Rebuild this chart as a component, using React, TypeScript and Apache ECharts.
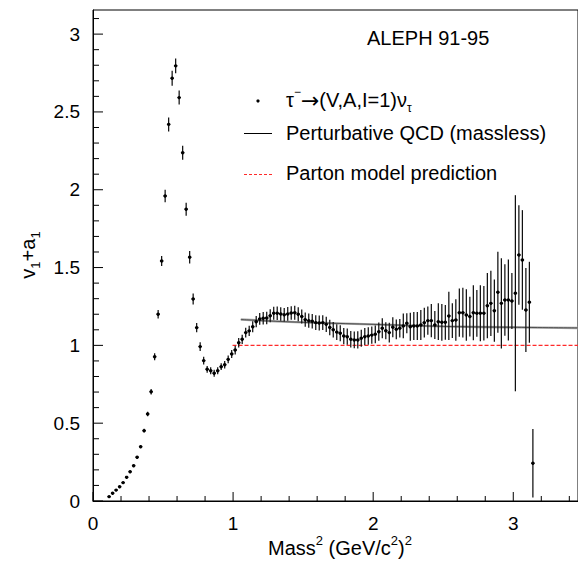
import React, { useEffect, useRef } from 'react';
import * as echarts from 'echarts';

// Mass^2 bin centres (GeV/c^2)^2
const massSq = [
  0.115, 0.14, 0.165, 0.19, 0.215, 0.24, 0.265, 0.29, 0.315, 0.34,
  0.365, 0.39, 0.415, 0.44, 0.465, 0.49, 0.515, 0.54, 0.565, 0.59,
  0.615, 0.64, 0.665, 0.69, 0.715, 0.74, 0.765, 0.79, 0.815, 0.84,
  0.865, 0.89, 0.915, 0.94, 0.965, 0.99, 1.015, 1.04, 1.065, 1.09,
  1.115, 1.14, 1.165, 1.19, 1.215, 1.24, 1.265, 1.29, 1.315, 1.34,
  1.365, 1.39, 1.415, 1.44, 1.465, 1.49, 1.515, 1.54, 1.565, 1.59,
  1.615, 1.64, 1.665, 1.69, 1.715, 1.74, 1.765, 1.79, 1.815, 1.84,
  1.865, 1.89, 1.915, 1.94, 1.965, 1.99, 2.015, 2.04, 2.065, 2.09,
  2.115, 2.14, 2.165, 2.19, 2.215, 2.24, 2.265, 2.29, 2.315, 2.34,
  2.365, 2.39, 2.415, 2.44, 2.465, 2.49, 2.515, 2.54, 2.565, 2.59,
  2.615, 2.64, 2.665, 2.69, 2.715, 2.74, 2.765, 2.79, 2.815, 2.84,
  2.865, 2.89, 2.915, 2.94, 2.965, 2.99, 3.015, 3.04, 3.065, 3.09,
  3.115, 3.14,
];

// v1 + a1 spectral function values
const v1a1 = [
  0.028, 0.05, 0.07, 0.092, 0.118, 0.152, 0.188, 0.227, 0.281, 0.349,
  0.452, 0.559, 0.702, 0.927, 1.2, 1.542, 1.96, 2.42, 2.716, 2.796,
  2.592, 2.238, 1.875, 1.566, 1.298, 1.114, 0.992, 0.902, 0.846, 0.837,
  0.821, 0.837, 0.863, 0.876, 0.91, 0.945, 0.97, 1.017, 1.039, 1.082,
  1.093, 1.12, 1.152, 1.17, 1.174, 1.176, 1.19, 1.206, 1.206, 1.202,
  1.197, 1.202, 1.208, 1.21, 1.2, 1.185, 1.165, 1.159, 1.155, 1.146,
  1.144, 1.146, 1.135, 1.115, 1.1, 1.085, 1.078, 1.06, 1.056, 1.039,
  1.035, 1.035, 1.046, 1.056, 1.06, 1.066, 1.071, 1.088, 1.11, 1.094,
  1.082, 1.116, 1.103, 1.11, 1.125, 1.142, 1.12, 1.125, 1.125, 1.131,
  1.146, 1.159, 1.159, 1.131, 1.152, 1.148, 1.148, 1.189, 1.159, 1.163,
  1.21, 1.21, 1.195, 1.185, 1.21, 1.206, 1.206, 1.206, 1.255, 1.27,
  1.223, 1.341, 1.27, 1.292, 1.292, 1.285, 1.335, 1.581, 1.549, 1.227,
  1.277, 0.242,
];

// symmetric uncertainties
const v1a1Err = [
  0.004, 0.004, 0.004, 0.005, 0.005, 0.006, 0.006, 0.007, 0.008, 0.009,
  0.012, 0.015, 0.018, 0.022, 0.028, 0.032, 0.04, 0.045, 0.048, 0.047,
  0.045, 0.045, 0.042, 0.04, 0.035, 0.03, 0.028, 0.025, 0.022, 0.022,
  0.022, 0.022, 0.022, 0.024, 0.025, 0.026, 0.028, 0.03, 0.03, 0.032,
  0.033, 0.035, 0.036, 0.038, 0.04, 0.04, 0.042, 0.042, 0.043, 0.043,
  0.043, 0.044, 0.044, 0.045, 0.045, 0.045, 0.046, 0.046, 0.047, 0.047,
  0.048, 0.048, 0.049, 0.05, 0.05, 0.05, 0.051, 0.052, 0.052, 0.053,
  0.054, 0.055, 0.055, 0.055, 0.056, 0.056, 0.057, 0.059, 0.064, 0.054,
  0.064, 0.064, 0.064, 0.059, 0.08, 0.064, 0.09, 0.09, 0.09, 0.096,
  0.096, 0.09, 0.107, 0.09, 0.118, 0.118, 0.112, 0.155, 0.112, 0.134,
  0.155, 0.16, 0.166, 0.128, 0.177, 0.15, 0.18, 0.175, 0.21, 0.21,
  0.2, 0.26, 0.29, 0.23, 0.26, 0.18, 0.63, 0.32, 0.32, 0.27,
  0.26, 0.22,
];

// Perturbative QCD (massless)
const qcdX = [1.055, 1.3, 1.6, 2.0, 2.5, 3.0, 3.47];
const qcdY = [1.166, 1.155, 1.145, 1.135, 1.122, 1.116, 1.112];

// Parton model prediction
const partonX = [0.996, 3.47];
const partonY = [1, 1];

// axis ticks
const xMajorTicks = [0, 1, 2, 3];
const xMinorStep = 0.2;
const yMajorTicks = [0, 0.5, 1, 1.5, 2, 2.5, 3];
const yMinorStep = 0.1;

const X_MAX = 3.462;
const Y_MAX = 3.155;
const FONT = '"Liberation Sans", Arial, Helvetica, sans-serif';

export default function App() {
  const ref = useRef<HTMLDivElement>(null);

  useEffect(() => {
    const chart = echarts.init(ref.current!, null, { renderer: 'svg' });
    const pts = massSq.map((x, i) => [x, v1a1[i], v1a1Err[i]]);

    // tick marks: [axis(0=x,1=y), value, major(1/0)]
    const ticks: number[][] = [];
    for (let i = 0; i * xMinorStep <= X_MAX + 1e-9; i++) {
      const v = +(i * xMinorStep).toFixed(3);
      ticks.push([0, v, xMajorTicks.includes(v) ? 1 : 0]);
    }
    for (let i = 0; i * yMinorStep <= Y_MAX + 1e-9; i++) {
      const v = +(i * yMinorStep).toFixed(3);
      ticks.push([1, v, yMajorTicks.includes(v) ? 1 : 0]);
    }

    chart.setOption({
      animation: false,
      grid: {
        left: 93, right: -2, top: 10, bottom: 61,
        show: true, borderColor: '#000', borderWidth: 1,
      },
      xAxis: {
        type: 'value', min: 0, max: X_MAX, interval: 1,
        axisLine: { show: true, onZero: false, lineStyle: { color: '#000', width: 1 } },
        axisTick: { show: false },
        minorTick: { show: false },
        splitLine: { show: false },
        axisLabel: {
          color: '#000', fontSize: 19, fontFamily: FONT, margin: 13,
          showMaxLabel: false,
        },
      },
      yAxis: {
        type: 'value', min: 0, max: Y_MAX, interval: 0.5,
        axisLine: { show: true, onZero: false, lineStyle: { color: '#000', width: 1 } },
        axisTick: { show: false },
        minorTick: { show: false },
        splitLine: { show: false },
        axisLabel: {
          color: '#000', fontSize: 19, fontFamily: FONT, margin: 13,
          showMaxLabel: false,
        },
      },
      graphic: [
        {
          type: 'text', x: 367, y: 38,
          style: { text: 'ALEPH 91-95', fontSize: 20, fontFamily: FONT, fill: '#000', verticalAlign: 'middle', align: 'left' },
        },
        { type: 'circle', shape: { cx: 258, cy: 101, r: 1.6 }, style: { fill: '#000' } },
        {
          type: 'text', x: 286, y: 100,
          style: {
            text: '{m|τ}{sup|−}{arr|→}{m|(V,A,I=1)ν}{sub|τ}',
            verticalAlign: 'middle', align: 'left', fill: '#000',
            rich: {
              m: { fontSize: 20, fontFamily: FONT, lineHeight: 28, verticalAlign: 'middle' },
              arr: { fontSize: 22, fontFamily: '"DejaVu Sans", sans-serif', lineHeight: 28, verticalAlign: 'middle' },
              sup: { fontSize: 12, fontFamily: FONT, lineHeight: 12, verticalAlign: 'top' },
              sub: { fontSize: 12, fontFamily: FONT, lineHeight: 12, verticalAlign: 'bottom' },
            },
          },
        },
        { type: 'line', shape: { x1: 244, y1: 133.5, x2: 272, y2: 133.5 }, style: { stroke: '#000', lineWidth: 1 } },
        {
          type: 'text', x: 286, y: 133,
          style: { text: 'Perturbative QCD (massless)', fontSize: 20, fontFamily: FONT, fill: '#000', verticalAlign: 'middle', align: 'left' },
        },
        { type: 'line', shape: { x1: 244, y1: 174.5, x2: 272, y2: 174.5 }, style: { stroke: '#ff2a2a', lineWidth: 1, lineDash: [3, 2] } },
        {
          type: 'text', x: 286, y: 173,
          style: { text: 'Parton model prediction', fontSize: 20, fontFamily: FONT, fill: '#000', verticalAlign: 'middle', align: 'left' },
        },
        {
          type: 'text', x: 340, y: 548,
          style: {
            text: '{m|Mass}{sup|2}{m| (GeV/c}{sup|2}{m|)}{sup|2}',
            verticalAlign: 'middle', align: 'center', fill: '#000',
            rich: {
              m: { fontSize: 20, fontFamily: FONT, lineHeight: 28, verticalAlign: 'middle' },
              sup: { fontSize: 13, fontFamily: FONT, lineHeight: 13, verticalAlign: 'top' },
            },
          },
        },
        {
          type: 'text', x: 28, y: 255, rotation: Math.PI / 2,
          style: {
            text: '{m|v}{sub|1}{m|+a}{sub|1}',
            verticalAlign: 'middle', align: 'center', fill: '#000',
            rich: {
              m: { fontSize: 20, fontFamily: FONT, lineHeight: 28, verticalAlign: 'middle' },
              sub: { fontSize: 13, fontFamily: FONT, lineHeight: 13, verticalAlign: 'bottom' },
            },
          },
        },
      ],
      series: [
        {
          type: 'line', data: partonX.map((x, i) => [x, partonY[i]]),
          showSymbol: false, symbol: 'none', z: 2,
          lineStyle: { color: '#ff2a2a', width: 1.1, type: [4, 2] },
        },
        {
          type: 'line', data: qcdX.map((x, i) => [x, qcdY[i]]),
          showSymbol: false, symbol: 'none', smooth: 0.3, z: 2,
          lineStyle: { color: '#a8a8a8', width: 2.4 },
        },
        {
          type: 'line', data: qcdX.map((x, i) => [x, qcdY[i]]),
          showSymbol: false, symbol: 'none', smooth: 0.3, z: 3,
          lineStyle: { color: '#444', width: 0.9 },
        },
        {
          type: 'custom', coordinateSystem: 'cartesian2d', data: pts, z: 5,
          renderItem: (params: any, api: any) => {
            const x = api.value(0), y = api.value(1), e = api.value(2);
            const c = api.coord([x, y]);
            const t = api.coord([x, y + e]);
            const b = api.coord([x, y - e]);
            const hw = api.size([0.0125, 0])[0];
            return {
              type: 'group',
              children: [
                { type: 'line', shape: { x1: c[0], y1: t[1], x2: c[0], y2: b[1] }, style: { stroke: '#111', lineWidth: 1.25 } },
                { type: 'line', shape: { x1: c[0] - hw, y1: c[1], x2: c[0] + hw, y2: c[1] }, style: { stroke: '#111', lineWidth: 1.1 } },
                { type: 'circle', shape: { cx: c[0], cy: c[1], r: 1.7 }, style: { fill: '#000' } },
              ],
            };
          },
        },
        {
          type: 'custom', coordinateSystem: 'cartesian2d', data: ticks, z: 6, clip: false, silent: true,
          renderItem: (params: any, api: any) => {
            const axis = api.value(0), v = api.value(1), major = api.value(2);
            if (axis === 0) {
              const p = api.coord([v, 0]);
              const len = major ? 9 : 5;
              return { type: 'line', shape: { x1: p[0], y1: p[1], x2: p[0], y2: p[1] - len }, style: { stroke: '#000', lineWidth: 1 } };
            }
            const p = api.coord([0, v]);
            const len = major ? 10 : 6;
            return { type: 'line', shape: { x1: p[0], y1: p[1], x2: p[0] + len, y2: p[1] }, style: { stroke: '#000', lineWidth: 1 } };
          },
        },
      ],
    });
    return () => chart.dispose();
  }, []);

  return (
    <div
      ref={ref}
      style={{ position: 'fixed', left: 0, top: 0, width: 578, height: 562, background: '#fff' }}
    />
  );
}
